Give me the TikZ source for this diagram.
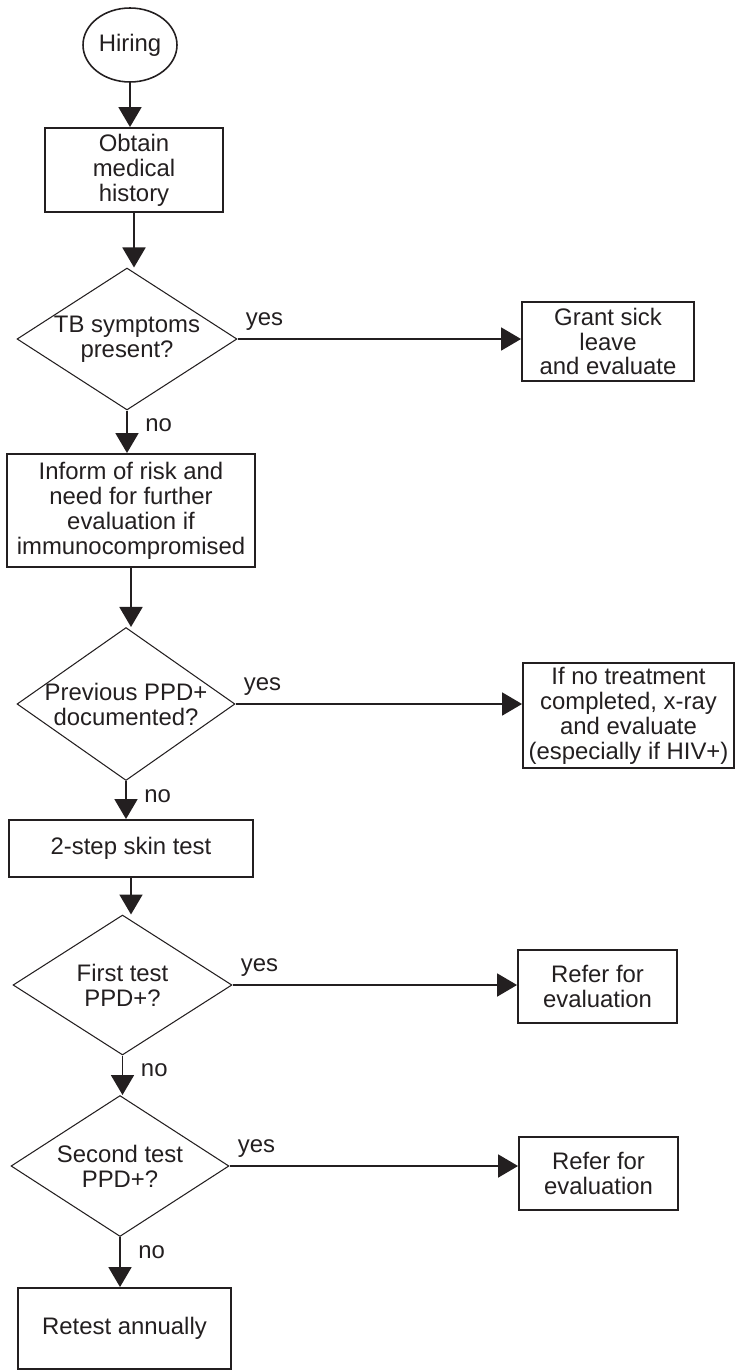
\documentclass[tikz,border=0pt]{standalone}
\usepackage{fontspec}
\setmainfont{Liberation Sans}
\usetikzlibrary{shapes.geometric,arrows.meta}
\definecolor{ink}{RGB}{35,31,32}

\begin{document}
\begin{tikzpicture}[x=0.02cm,y=-0.02cm,
  every node/.style={font=\fontsize{13.6}{14.2}\selectfont,text=ink},
  box/.style={draw=ink,line width=1.1pt,inner sep=0pt,align=center},
  decision/.style={diamond,draw=ink,line width=0.6pt,inner sep=-0.4cm,align=center},
  arr/.style={draw=ink,line width=1.1pt,-{Triangle[length=0.4cm,width=0.46cm]}},
  lbl/.style={inner sep=0.15cm}]
\useasboundingbox (0,0) rectangle (735,1372);

\node[ellipse,draw=ink,line width=0.9pt,inner sep=0pt,minimum width=1.88cm,minimum height=1.48cm] (hire) at (130,45) {Hiring};
\node[box,minimum width=3.56cm,minimum height=1.68cm] (hist) at (134,170) {Obtain\\medical\\history};
\node[decision,minimum width=4.40cm,minimum height=2.84cm] (tb) at (127,339) {TB symptoms\\present?};
\node[box,minimum width=3.44cm,minimum height=1.58cm] (sick) at (608,341.5) {Grant sick\\leave\\and evaluate};
\node[box,minimum width=4.96cm,minimum height=2.26cm] (inform) at (131,510.5) {Inform of risk and\\need for further\\evaluation if\\immunocompromised};
\node[decision,minimum width=4.36cm,minimum height=3.06cm] (prev) at (126,704) {Previous PPD+\\documented?};
\node[box,minimum width=4.22cm,minimum height=2.10cm] (xray) at (628.5,715.5) {If no treatment\\completed, x-ray\\and evaluate\\(especially if HIV+)};
\node[box,minimum width=4.88cm,minimum height=1.14cm] (skin) at (131,848.5) {2-step skin test};
\node[decision,minimum width=4.38cm,minimum height=2.80cm] (first) at (122.5,985) {First test\\PPD+?};
\node[box,minimum width=3.18cm,minimum height=1.46cm] (ref1) at (597.5,986.5) {Refer for\\evaluation};
\node[decision,minimum width=4.36cm,minimum height=2.82cm] (second) at (120,1166) {Second test\\PPD+?};
\node[box,minimum width=3.18cm,minimum height=1.46cm] (ref2) at (598.5,1173.5) {Refer for\\evaluation};
\node[box,minimum width=4.26cm,minimum height=1.62cm] (retest) at (124.5,1328.5) {Retest annually};

\draw[arr] (hire.south) -- (hire.south |- hist.north);
\draw[arr] (hist.south) -- (hist.south |- tb.north);
\draw[arr] (tb.east) -- node[lbl,anchor=south west,at start]{yes} (tb.east -| sick.west);
\draw[arr] (tb.south) -- node[lbl,anchor=north west,at start,xshift=0.2cm]{no} (tb.south |- inform.north);
\draw[arr] (inform.south) -- (inform.south |- prev.north);
\draw[arr] (prev.east) -- node[lbl,anchor=south west,at start]{yes} (prev.east -| xray.west);
\draw[arr] (prev.south) -- node[lbl,anchor=north west,at start,xshift=0.2cm]{no} (prev.south |- skin.north);
\draw[arr] (skin.south) -- (skin.south |- first.north);
\draw[arr] (first.east) -- node[lbl,anchor=south west,at start]{yes} (first.east -| ref1.west);
\draw[arr] (first.south) -- node[lbl,anchor=north west,at start,xshift=0.2cm]{no} (first.south |- second.north);
\draw[arr] (second.east) -- node[lbl,anchor=south west,at start]{yes} (second.east -| ref2.west);
\draw[arr] (second.south) -- node[lbl,anchor=north west,at start,xshift=0.2cm]{no} (second.south |- retest.north);

\end{tikzpicture}
\end{document}
